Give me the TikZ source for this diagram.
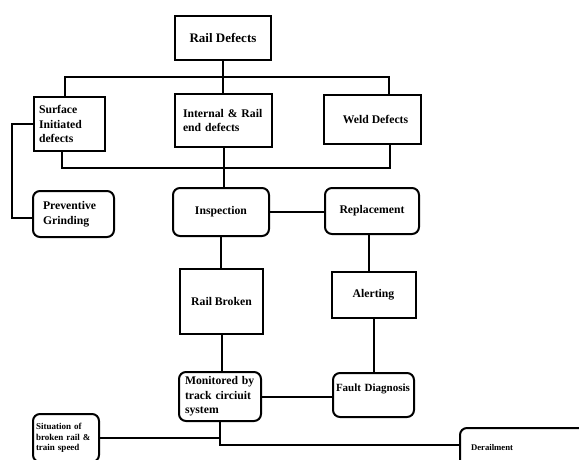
\documentclass[tikz,border=0pt]{standalone}
\usepackage{fontspec}
\setmainfont{Liberation Serif}
\tikzset{
  defect/.style={draw, line width=2pt, align=left, inner xsep=5pt, inner ysep=0pt,
    font=\fontsize{11.7}{14.5}\selectfont\bfseries},
  stage/.style={defect, rounded corners=7pt},
  link/.style={line width=2pt},
}
\begin{document}
\begin{tikzpicture}[x=1pt,y=-1pt]
  \clip (0,0) rectangle (579,459);
  % Top level
  \node[defect, align=center, minimum width=96pt, minimum height=44pt,
        font=\fontsize{13}{15}\selectfont\bfseries] (rail) at (223,38) {Rail Defects};
  % Defect types
  \node[defect, text width=61pt, minimum height=54pt] (surface) at (69.5,124) {Surface\\Initiated\\defects};
  \node[defect, inner xsep=8pt, text width=81pt, minimum height=53pt] (internal) at (223.5,120.5) {Internal \& Rail\\end defects};
  \node[defect, align=center, minimum width=97pt, minimum height=49pt] (weld) at (372.5,119.5) {\hspace*{6pt}Weld Defects};
  % Actions
  \node[stage, inner xsep=10pt, text width=61pt, minimum height=46pt] (preventive) at (73.5,214) {Preventive\\Grinding};
  \node[stage, align=center, minimum width=96pt, minimum height=48pt] (inspection) at (221,212) {Inspection};
  \node[stage, align=center, minimum width=94pt, minimum height=46pt] (replacement) at (372,211) {Replacement};
  \node[defect, align=center, minimum width=83pt, minimum height=65pt] (broken) at (221.5,301.5) {Rail Broken};
  \node[defect, align=center, minimum width=84pt, minimum height=46pt] (alerting) at (373.5,295) {Alerting};
  \node[stage, inner xsep=6pt, text width=70pt, minimum height=49pt] (monitored) at (220,396.5) {Monitored by\\track circiuit\\system};
  \node[stage, inner xsep=3pt, text width=75pt, minimum height=44pt,
        font=\fontsize{11}{14.5}\selectfont\bfseries] (fault) at (373.5,395) {\mbox{Fault Diagnosis}\\\mbox{}};
  % Outcomes
  \node[stage, inner xsep=3pt, text width=60pt, minimum height=48pt,
        font=\fontsize{9}{10.5}\selectfont\bfseries] (situation) at (66,438) {Situation of\\broken rail \&\\train speed};
  \node[stage, inner xsep=11pt, text width=103pt, minimum height=40pt,
        font=\fontsize{8.7}{10.5}\selectfont\bfseries] (derail) at (522.5,448) {Derailment};
  % Connectors
  \coordinate (topbus) at (225,77);
  \coordinate (lowbus) at (223,168);
  \draw[link] (rail.south) -- (rail.south |- internal.north);
  \draw[link] ([xshift=-5pt]surface.north) |- (topbus) -| ([xshift=16pt]weld.north);
  \draw[link] ([xshift=-8pt]surface.south) |- (lowbus) -| ([xshift=17pt]weld.south);
  \draw[link] (internal.south) -- (internal.south |- inspection.north);
  \draw[link] (surface.west) -- ++(-21,0) |- ([yshift=-4pt]preventive.west);
  \draw[link] (inspection.east) -- (inspection.east -| replacement.west);
  \draw[link] ([xshift=-3pt]replacement.south) -- ([xshift=-3pt]replacement.south |- alerting.north);
  \draw[link] (inspection.south) -- (inspection.south |- broken.north);
  \draw[link] (broken.south) -- (broken.south |- monitored.north);
  \draw[link] (alerting.south) -- (alerting.south |- fault.north);
  \draw[link] (monitored.east) -- (monitored.east -| fault.west);
  \draw[link] (monitored.south) |- ([yshift=3pt]derail.west);
  \draw[link] (situation.east) -- (situation.east -| monitored.south);
\end{tikzpicture}
\end{document}
